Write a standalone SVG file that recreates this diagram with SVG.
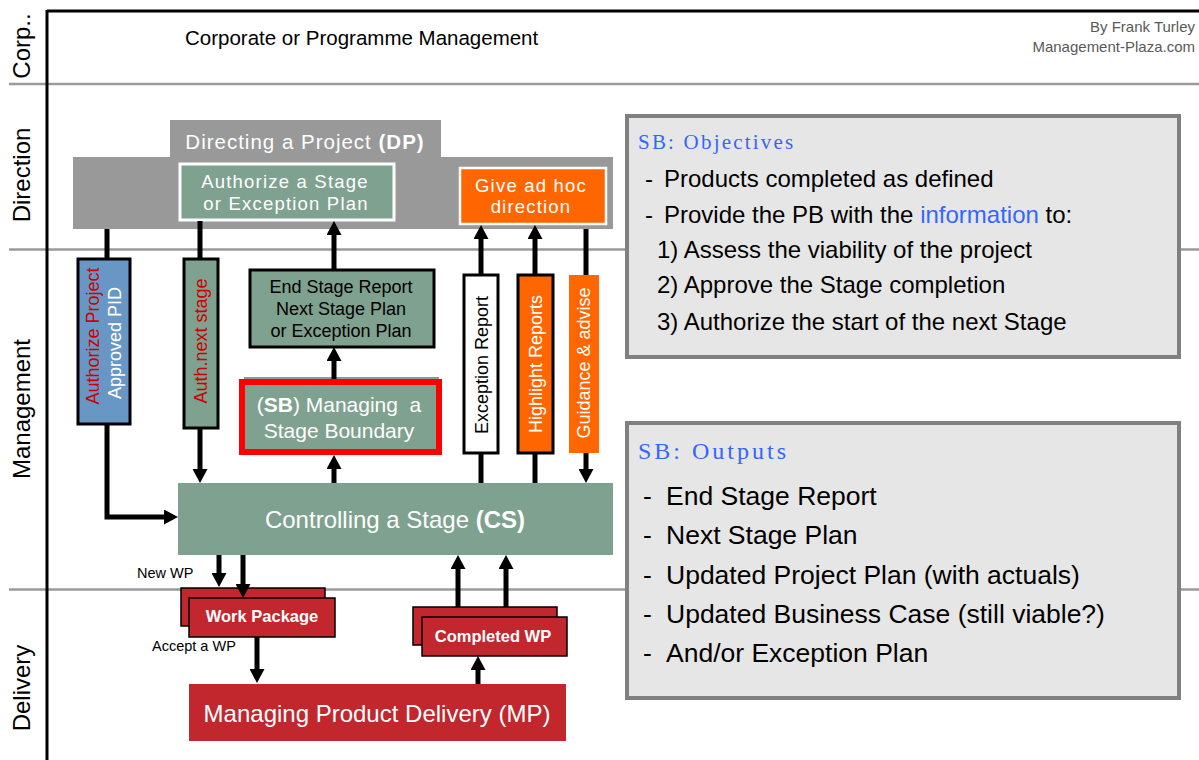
<svg xmlns="http://www.w3.org/2000/svg" width="1199" height="760" viewBox="0 0 1199 760">
<defs>
<marker id="ah" viewBox="0 0 14 15" refX="2" refY="7.5" markerWidth="14" markerHeight="15" markerUnits="userSpaceOnUse" orient="auto"><path d="M0,0 L14,7.5 L0,15 z" fill="#000"/></marker>
<style>
text{font-family:"Liberation Sans",Arial,sans-serif}
.lane{font-size:24px;fill:#000}
.lanel{stroke:#9a9a9a;stroke-width:2.5;fill:none}
.green{fill:#7fa18f}
.wt{fill:#fff}
.dp{font-size:18.5px;letter-spacing:1.2px;fill:#fff}
.bar{font-size:18px}
.con{stroke:#000;stroke-width:5;fill:none}
.arr{marker-end:url(#ah)}
.wp{fill:#c1272d;stroke:#000;stroke-width:1.5}
.wpt{font-size:16.5px;font-weight:bold;fill:#fff}
.sbox{fill:#e6e6e6;stroke:#808080;stroke-width:4}
.ttl{font-family:"Liberation Serif","Times New Roman",serif;fill:#3366ff}
.ob{font-size:24px;fill:#000}
.out{font-size:26.5px;fill:#000}
</style>
</defs>
<rect width="1199" height="760" fill="#fff"/>
<g id="frame">
<line class="lanel" x1="9" y1="84" x2="1199" y2="84"/>
<line class="lanel" x1="9" y1="249.5" x2="1199" y2="249.5"/>
<line class="lanel" x1="9" y1="589.5" x2="1199" y2="589.5"/>
<line x1="47" y1="11" x2="1199" y2="11" stroke="#000" stroke-width="3"/>
<line x1="47" y1="10" x2="47" y2="760" stroke="#000" stroke-width="3"/>
<text class="lane" transform="translate(30,46) rotate(-90)" text-anchor="middle">Corp..</text>
<text class="lane" transform="translate(30,175) rotate(-90)" text-anchor="middle">Direction</text>
<text class="lane" transform="translate(30,409) rotate(-90)" text-anchor="middle">Management</text>
<text class="lane" transform="translate(30,688) rotate(-90)" text-anchor="middle">Delivery</text>
<text x="185" y="45" font-size="20.5" fill="#000">Corporate or Programme Management</text>
<text x="1195" y="32" font-size="15" fill="#595959" text-anchor="end">By Frank Turley</text>
<text x="1195" y="52" font-size="15" fill="#595959" text-anchor="end">Management-Plaza.com</text>
</g>
<g id="dp">
<rect x="170" y="120" width="271" height="38" fill="#999"/>
<rect x="73" y="157" width="540" height="72" fill="#999"/>
<text x="305" y="149" font-size="20.5" letter-spacing="1" fill="#fff" text-anchor="middle">Directing a Project <tspan font-weight="bold">(DP)</tspan></text>
</g>
<g id="authorize-stage">
<rect class="green" x="180" y="164" width="214" height="56" stroke="#fff" stroke-width="3"/>
<text class="dp" x="285" y="188" text-anchor="middle">Authorize a Stage</text>
<text class="dp" x="286" y="210" text-anchor="middle">or Exception Plan</text>
</g>
<g id="give-adhoc">
<rect x="460" y="168" width="146" height="56" fill="#ff6600" stroke="#fff" stroke-width="2.5"/>
<text class="dp" x="531" y="192" text-anchor="middle">Give ad hoc</text>
<text class="dp" x="531" y="213" text-anchor="middle">direction</text>
</g>
<g id="authorize-project">
<rect x="78" y="259" width="52" height="165" fill="#6897c5" stroke="#000" stroke-width="3"/>
<text class="bar" transform="translate(99,336) rotate(-90)" text-anchor="middle" fill="#cc0000">Authorize Project</text>
<text class="bar" transform="translate(121,343) rotate(-90)" text-anchor="middle" fill="#fff">Approved PID</text>
</g>
<g id="auth-next">
<rect class="green" x="184" y="259" width="34" height="169" stroke="#000" stroke-width="3"/>
<text class="bar" transform="translate(207,341) rotate(-90)" text-anchor="middle" fill="#cc0000">Auth.next stage</text>
</g>
<g id="end-stage-report">
<rect class="green" x="250" y="270" width="184" height="77" stroke="#000" stroke-width="3"/>
<text x="341" y="293" font-size="18" text-anchor="middle">End Stage Report</text>
<text x="341" y="315" font-size="18" text-anchor="middle">Next Stage Plan</text>
<text x="341" y="337" font-size="18" text-anchor="middle">or Exception Plan</text>
</g>
<g id="sb">
<rect class="green" x="244" y="377" width="195" height="74"/>
<rect x="242" y="382" width="197" height="70" fill="none" stroke="#ff0000" stroke-width="6"/>
<text x="339" y="412" font-size="21" fill="#fff" text-anchor="middle" style="white-space:pre">(<tspan font-weight="bold">SB</tspan>) Managing  a</text>
<text x="339" y="438" font-size="21" fill="#fff" text-anchor="middle">Stage Boundary</text>
</g>
<g id="exception-report">
<rect x="464" y="275" width="34" height="178" fill="#fff" stroke="#000" stroke-width="3"/>
<text class="bar" transform="translate(488,365) rotate(-90)" text-anchor="middle" fill="#000">Exception Report</text>
</g>
<g id="highlight-reports">
<rect x="518" y="275" width="35" height="178" fill="#ff6600" stroke="#000" stroke-width="3"/>
<text class="bar" transform="translate(542,364) rotate(-90)" text-anchor="middle" fill="#fff">Highlight Reports</text>
</g>
<g id="guidance">
<rect x="569" y="275" width="30" height="178" fill="#ff6600"/>
<text class="bar" transform="translate(590,363) rotate(-90)" text-anchor="middle" fill="#fff">Guidance &amp; advise</text>
</g>
<g id="cs">
<rect class="green" x="178" y="483" width="435" height="72"/>
<text x="395" y="528" font-size="24" fill="#fff" text-anchor="middle">Controlling a Stage <tspan font-weight="bold">(CS)</tspan></text>
</g>
<g id="work-package">
<rect class="wp" x="181" y="588" width="144" height="38"/>
<rect class="wp" x="189" y="598" width="146" height="39"/>
<text class="wpt" x="262" y="622" text-anchor="middle">Work Package</text>
</g>
<g id="completed-wp">
<rect class="wp" x="413" y="607" width="144" height="38"/>
<rect class="wp" x="422" y="617" width="145" height="39"/>
<text class="wpt" x="493" y="642" text-anchor="middle">Completed WP</text>
</g>
<g id="mp">
<rect x="189" y="684" width="377" height="57" fill="#c1272d"/>
<text x="377" y="722" font-size="24" fill="#fff" text-anchor="middle">Managing Product Delivery (MP)</text>
</g>
<g id="labels">
<text x="137" y="578" font-size="14.5">New WP</text>
<text x="152" y="651" font-size="14.5">Accept a WP</text>
</g>
<g id="objectives">
<rect class="sbox" x="627" y="116" width="552" height="241"/>
<text class="ttl" x="638" y="149" font-size="21" letter-spacing="2.2">SB: Objectives</text>
<text class="ob" x="645" y="187">-</text>
<text class="ob" x="664" y="187">Products completed as defined</text>
<text class="ob" x="645" y="223">-</text>
<text class="ob" x="664" y="223">Provide the PB with the <tspan fill="#3366ff">information</tspan> to:</text>
<text class="ob" x="657" y="258">1) Assess the viability of the project</text>
<text class="ob" x="657" y="293">2) Approve the Stage completion</text>
<text class="ob" x="657" y="330">3) Authorize the start of the next Stage</text>
</g>
<g id="outputs">
<rect class="sbox" x="627" y="423" width="552" height="275"/>
<text class="ttl" x="638" y="459" font-size="24" letter-spacing="3">SB: Outputs</text>
<text class="out" x="643" y="505">-</text><text class="out" x="666" y="505">End Stage Report</text>
<text class="out" x="643" y="544">-</text><text class="out" x="666" y="544">Next Stage Plan</text>
<text class="out" x="643" y="584">-</text><text class="out" x="666" y="584">Updated Project Plan (with actuals)</text>
<text class="out" x="643" y="623">-</text><text class="out" x="666" y="623">Updated Business Case (still viable?)</text>
<text class="out" x="643" y="662">-</text><text class="out" x="666" y="662">And/or Exception Plan</text>
</g>
<g id="connectors">
<path class="con" d="M107,229 V259"/>
<path class="con arr" d="M107,424 V517 H166"/>
<path class="con" d="M200,221 V259"/>
<path class="con arr" d="M200,428 V471"/>
<path class="con arr" d="M334,269 V233"/>
<path class="con arr" d="M334,379 V359"/>
<path class="con arr" d="M334,483 V467"/>
<path class="con arr" d="M481,274 V237"/>
<path class="con" d="M481,483 V453"/>
<path class="con arr" d="M535,274 V237"/>
<path class="con" d="M535,483 V453"/>
<path class="con" d="M586,229 V275"/>
<path class="con arr" d="M586,453 V471"/>
<path class="con arr" d="M219,555 V575"/>
<path class="con arr" d="M243,555 V586"/>
<path class="con arr" d="M257,637 V671"/>
<path class="con arr" d="M458,607 V567"/>
<path class="con arr" d="M506,607 V567"/>
<path class="con arr" d="M478,684 V668"/>
</g>
</svg>
